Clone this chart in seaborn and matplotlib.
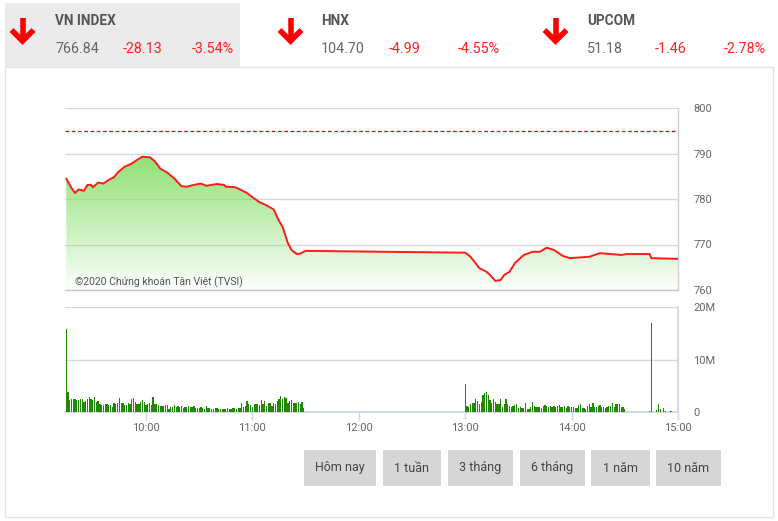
import numpy as np
import pandas as pd
import matplotlib
matplotlib.use("Agg")
import matplotlib.pyplot as plt
import seaborn as sns
from matplotlib.patches import Rectangle, Polygon
from matplotlib.lines import Line2D

# ---------------- data ----------------
price_times = ["09:15", "09:18", "09:20", "09:22", "09:25", "09:27", "09:29", "09:30", "09:33", "09:36",
               "09:39", "09:42", "09:44", "09:48", "09:52", "09:55", "09:58", "10:00", "10:02", "10:05",
               "10:08", "10:12", "10:16", "10:20", "10:23", "10:27", "10:31", "10:34", "10:40", "10:44",
               "10:45", "10:50", "10:53", "10:57", "11:00", "11:04", "11:08", "11:12", "11:15", "11:17",
               "11:20", "11:22", "11:25", "11:27", "11:30",
               "13:00", "13:03", "13:08", "13:12", "13:14", "13:17", "13:20", "13:22", "13:25", "13:28",
               "13:33", "13:38", "13:42", "13:46", "13:50", "13:55", "13:59", "14:06", "14:10", "14:16",
               "14:22", "14:28", "14:31", "14:44", "14:45", "15:00"]
price_values = [784.5, 782.4, 781.3, 782.1, 781.8, 783.1, 783.1, 782.6, 783.6, 783.4,
                784.2, 784.8, 785.8, 787.1, 787.8, 788.6, 789.3, 789.2, 789.2, 788.3,
                786.7, 785.8, 784.5, 782.8, 782.7, 783.1, 783.4, 782.9, 783.3, 783.1,
                782.7, 782.6, 782.1, 781.3, 780.4, 779.3, 778.6, 777.7, 775.2, 773.9,
                770.3, 768.8, 767.9, 768.0, 768.6,
                768.2, 767.3, 764.8, 764.0, 763.3, 762.0, 762.2, 763.3, 764.0, 765.9,
                767.7, 768.4, 768.4, 769.3, 768.8, 767.5, 767.0, 767.2, 767.3, 768.1,
                767.9, 767.7, 767.9, 767.9, 767.0, 766.84]
prev_close = 794.97

# volume (millions) per minute, morning session from 09:15, afternoon from 13:00
vol_morning = [15.8, 3.9, 2.2, 2.5, 2.4, 2.5, 2.2, 2.2, 2.5, 2.5, 2.0, 2.1, 2.4, 2.9, 2.5, 2.2, 2.9, 2.0,
               2.1, 1.6, 1.3, 1.3, 1.5, 1.6, 1.3, 1.3, 1.0, 1.7, 1.6, 1.7, 2.7, 1.7, 1.8, 1.3, 1.3, 1.8,
               1.6, 2.5, 2.7, 2.0, 1.6, 1.5, 2.0, 2.3, 1.9, 1.3, 1.6, 1.7, 1.3, 2.9, 1.5, 1.5, 1.3, 1.1,
               1.1, 1.2, 1.4, 1.4, 0.6, 1.0, 1.0, 1.3, 1.0, 1.2, 0.9, 1.1, 0.8, 1.0, 0.9, 1.1,
               0.95, 0.95, 1.14, 0.83, 0.83, 0.7, 0.95, 0.83, 0.5, 1.14, 0.7, 0.83, 0.63, 0.63, 0.83,
               0.7, 0.5, 0.63, 0.63, 0.5, 0.5, 0.7, 0.63, 0.5, 0.83, 0.7, 0.5, 0.83, 0.83, 1.78, 0.95,
               1.14, 2.1, 1.59, 1.33, 1.0, 1.59, 1.46, 1.46, 1.27, 2.35, 1.46, 2.1, 1.14, 1.78, 1.78,
               1.14, 1.65, 1.59, 2.1, 2.54, 3.05, 2.41, 2.92, 2.6, 1.78, 2.1, 2.35, 1.78, 1.78, 1.78,
               1.97, 1.46, 1.97, 0.83]
vol_afternoon = [5.3, 1.1, 0.95, 1.5, 1.8, 1.8, 2.5, 2.1, 1.6, 2.0, 3.2, 3.7, 3.9, 3.2, 2.2, 1.8, 2.4,
                 2.0, 1.5, 1.5, 2.5, 1.0, 1.5, 2.4, 1.6, 1.1, 0.95, 1.1, 1.27, 1.6, 0.8, 1.0, 0.8, 0.8,
                 1.8, 0.6, 0.6, 1.0, 2.0, 1.1, 1.0, 0.95, 0.95, 0.8, 1.1, 1.33, 1.1, 0.95, 1.1, 1.0,
                 1.2, 0.9, 1.1, 1.3, 0.9, 1.0, 1.2, 0.8, 1.1, 1.0,
                 1.0, 0.95, 0.8, 0.8, 1.3, 1.6, 0.7, 0.7, 0.63, 1.1, 1.6, 0.95, 1.8, 0.95, 0.95, 1.2,
                 1.33, 1.0, 1.0, 0.8, 0.9, 1.1, 1.1, 1.8, 1.0, 1.6, 1.6, 1.6, 1.0, 0.9, 0.5]
vol_close_times = ["14:44", "14:45", "14:48", "14:49", "14:50", "14:52", "14:53", "14:56"]
vol_close_values = [0.15, 17.0, 0.3, 1.6, 0.6, 0.8, 0.1, 0.1]

price_ticks = [760, 770, 780, 790, 800]
vol_ticks = [0, 10, 20]
vol_tick_labels = ["0", "10M", "20M"]
time_ticks = ["10:00", "11:00", "12:00", "13:00", "14:00", "15:00"]

indices = ["VN INDEX", "HNX", "UPCOM"]
index_values = ["766.84", "104.70", "51.18"]
index_changes = ["-28.13", "-4.99", "-1.46"]
index_pcts = ["-3.54%", "-4.55%", "-2.78%"]
buttons = ["Hôm nay", "1 tuần", "3 tháng", "6 tháng", "1 năm", "10 năm"]
copyright_text = "©2020 Chứng khoán Tân Việt (TVSI)"


def hm(s):
    h, m = s.split(":")
    return int(h) + int(m) / 60.0


# ---------------- figure ----------------
sns.set_theme(style="white")
plt.rcParams["font.family"] = ["Roboto", "DejaVu Sans"]

W, H = 778, 521
fig = plt.figure(figsize=(W / 100, H / 100), dpi=100)
fig.patch.set_facecolor("white")


def fx(x):
    return x / W


def fy(y):
    return 1 - y / H


def rect_px(x0, y0, x1, y1):
    return [fx(x0), fy(y1), (x1 - x0) / W, (y1 - y0) / H]


# header tab and chart box
fig.patches.append(Rectangle((fx(5), fy(67)), (240 - 5) / W, (67 - 3) / H,
                             transform=fig.transFigure, facecolor="#ebebeb", edgecolor="none", zorder=0))
fig.patches.append(Rectangle((fx(5), fy(517)), (773 - 5) / W, (517 - 67) / H,
                             transform=fig.transFigure, facecolor="none", edgecolor="#e3e3e3", lw=1, zorder=0))

# header
hx = [10, 278, 543]
tx = [55, 321, 587]
for i in range(3):
    ax0 = hx[i]
    cx = ax0 + 12.5
    fig.add_artist(Line2D([fx(cx), fx(cx)], [fy(18), fy(40)], transform=fig.transFigure,
                          color="#ff0000", lw=4.0, solid_capstyle="butt"))
    fig.add_artist(Line2D([fx(cx - 11), fx(cx), fx(cx + 11)], [fy(30), fy(41), fy(30)],
                          transform=fig.transFigure, color="#ff0000", lw=4.0,
                          solid_joinstyle="miter", solid_capstyle="butt"))
    fig.text(fx(tx[i]), fy(21), indices[i], fontsize=9.8, fontweight="bold", color="#555555",
             va="center", ha="left")
    fig.text(fx(tx[i]), fy(49), index_values[i], fontsize=10.3, color="#666666", va="center", ha="left")
    fig.text(fx(tx[i] + 68), fy(49), index_changes[i], fontsize=10.3, color="#ff2020", va="center", ha="left")
    fig.text(fx(tx[i] + 137), fy(49), index_pcts[i], fontsize=10.3, color="#ff2020", va="center", ha="left")

XMIN = 10 - 81 / 106.4
XMAX = 15.0
grid_c = "#d9d9d9"
lab_c = "#666666"
axis_c = "#ccd6eb"

# ---------------- price axes ----------------
axp = fig.add_axes(rect_px(65, 108, 678, 290))
df = pd.DataFrame({"t": [hm(s) for s in price_times], "p": price_values})
sns.lineplot(data=df, x="t", y="p", ax=axp, color="#ff1a1a", lw=1.4, zorder=5)
axp.set_xlim(XMIN, XMAX)
axp.set_ylim(760, 800)

# gradient fill under the line
verts = np.column_stack([np.r_[df["t"].values, df["t"].values[-1], df["t"].values[0]],
                         np.r_[df["p"].values, 760, 760]])
poly = Polygon(verts, closed=True, facecolor="none", edgecolor="none", transform=axp.transData)
axp.add_patch(poly)
n = 256
grad = np.zeros((n, 1, 4))
grad[:, 0, 0] = 0.50
grad[:, 0, 1] = 0.87
grad[:, 0, 2] = 0.38
grad[:, 0, 3] = np.linspace(0.02, 0.9, n)
im = axp.imshow(grad, extent=[XMIN, XMAX, 760, 790], origin="lower", aspect="auto", zorder=2)
im.set_clip_path(poly)
axp.set_xlim(XMIN, XMAX)
axp.set_ylim(760, 800)

axp.axhline(prev_close, color="#dd0000", lw=0.9, ls=(0, (3, 2)), zorder=4)
axp.set_yticks(price_ticks)
axp.yaxis.tick_right()
axp.tick_params(axis="y", length=0, pad=11, labelsize=8, labelcolor=lab_c)
axp.set_xticks([])
axp.grid(axis="y", color=grid_c, lw=1)
axp.set_axisbelow(True)
for s in ["left", "top"]:
    axp.spines[s].set_visible(False)
axp.spines["right"].set_color("#d0d0d0")
axp.spines["bottom"].set_color("#c8c8c8")
axp.spines["right"].set_linewidth(1)
axp.spines["bottom"].set_linewidth(1)
axp.set_xlabel("")
axp.set_ylabel("")
axp.text(fx(75), fy(282), copyright_text, transform=fig.transFigure, fontsize=7.5,
         color="#555555", va="center", ha="left")

# ---------------- volume axes ----------------
axv = fig.add_axes(rect_px(65, 307, 678, 412))
t_m = [9.25 + i / 60 for i in range(len(vol_morning))]
t_a = [13.0 + i / 60 for i in range(len(vol_afternoon))]
t_c = [hm(s) for s in vol_close_times]
vdf = pd.DataFrame({"t": t_m + t_a + t_c, "v": vol_morning + vol_afternoon + vol_close_values})
axv.bar(vdf["t"], vdf["v"], width=0.72 / 60, color="#1f8a00", align="center", zorder=3,
        linewidth=0, edgecolor="none", antialiased=False)
axv.set_xlim(XMIN, XMAX)
axv.set_ylim(0, 20)
axv.set_yticks(vol_ticks)
axv.set_yticklabels(vol_tick_labels)
axv.yaxis.tick_right()
axv.tick_params(axis="y", length=0, pad=11, labelsize=8, labelcolor=lab_c)
axv.set_xticks([hm(s) for s in time_ticks])
axv.set_xticklabels(time_ticks)
axv.tick_params(axis="x", length=6, width=1, color=axis_c, pad=2, labelsize=8, labelcolor=lab_c,
                bottom=True)
axv.grid(axis="y", color=grid_c, lw=1)
axv.set_axisbelow(True)
for s in ["left", "top"]:
    axv.spines[s].set_visible(False)
axv.spines["right"].set_color(axis_c)
axv.spines["bottom"].set_color(axis_c)

# ---------------- buttons ----------------
bx = [(304, 376), (383, 441), (448, 513), (520, 585), (591, 650), (656, 721)]
for (x0, x1), lab in zip(bx, buttons):
    fig.patches.append(Rectangle((fx(x0), fy(486)), (x1 - x0) / W, (486 - 450) / H,
                                 transform=fig.transFigure, facecolor="#d6d6d6", edgecolor="none"))
    fig.text(fx((x0 + x1) / 2), fy(468), lab, fontsize=9, color="#444444", ha="center", va="center")

fig.savefig("out.png", dpi=100, facecolor="white")
